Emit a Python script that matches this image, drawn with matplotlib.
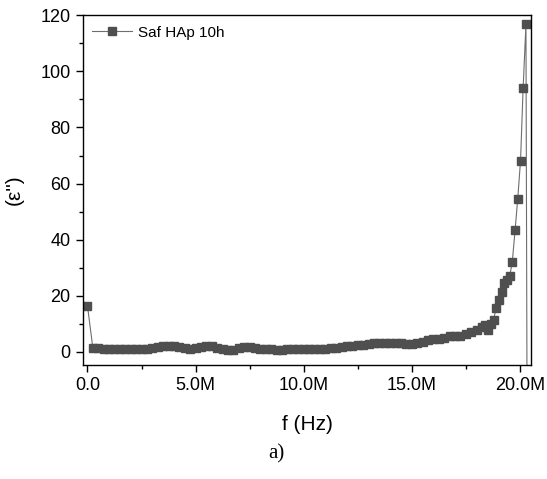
import numpy as np
import matplotlib
matplotlib.use("Agg")
import matplotlib.pyplot as plt
from matplotlib.ticker import MultipleLocator, FuncFormatter

plt.rcParams['font.family'] = ['Liberation Sans', 'DejaVu Sans']

# frequency sweep (MHz) and dielectric loss
freq_mhz = [
    0.0, 0.25, 0.5, 0.75, 1.0, 1.25, 1.5, 1.75, 2.0, 2.25, 2.5, 2.75, 3.0,
    3.25, 3.5, 3.75, 4.0, 4.25, 4.5, 4.75, 5.0, 5.25, 5.5, 5.75,
    6.0, 6.25, 6.5, 6.75, 7.0, 7.25, 7.5,
    7.75, 8.0, 8.25, 8.5, 8.75, 9.0, 9.25, 9.5, 9.75, 10.0, 10.25, 10.5, 10.75, 11.0,
    11.25, 11.5, 11.75, 12.0, 12.25, 12.5,
    12.75, 13.0, 13.25, 13.5, 13.75, 14.0,
    14.25, 14.5, 14.75, 15.0, 15.25,
    15.5, 15.75, 16.0, 16.25,
    16.5, 16.75, 17.0, 17.25,
    17.5, 17.75, 18.0, 18.25, 18.4,
    18.53, 18.65, 18.78, 18.90, 19.03, 19.15, 19.28, 19.40, 19.53,
    19.65, 19.78, 19.90, 20.03, 20.15, 20.28, 20.38,
]
eps_loss = [
    16.4, 1.3, 1.2, 1.1, 1.0, 1.0, 0.9, 0.9, 1.0, 1.0, 1.1, 1.1, 1.2,
    1.6, 2.0, 2.1, 2.1, 1.8, 1.2, 0.9, 1.2, 1.7, 2.1, 2.0,
    1.5, 1.0, 0.7, 0.8, 1.3, 1.7, 1.6,
    1.2, 1.0, 0.9, 0.9, 0.8, 0.8, 0.9, 0.9, 1.0, 1.0, 0.9, 0.9, 1.0, 1.1,
    1.2, 1.4, 1.6, 1.9, 2.1, 2.4,
    2.6, 2.8, 3.0, 3.1, 3.2, 3.2,
    3.1, 3.0, 2.9, 2.9, 3.0,
    3.6, 4.2, 4.4, 4.6,
    5.0, 5.5, 5.6, 5.8,
    6.4, 7.0, 7.8, 8.7, 9.4,
    7.9, 10.0, 11.4, 15.5, 18.5, 21.5, 24.5, 25.5, 27.0,
    32.2, 43.6, 54.6, 68.2, 94.2, 116.8, -150.0,
]

freq = np.array(freq_mhz) * 1e6

fig = plt.figure(figsize=(5.47, 4.79), dpi=100)
ax = fig.add_axes([0.152, 0.238, 0.819, 0.730])

ax.plot(freq, eps_loss, color='#6e6e6e', lw=0.8, marker='s', ms=6.0,
        mfc='#4f4f4f', mec='#4f4f4f', label='Saf HAp 10h')

ax.set_xlim(-0.2e6, 20.52e6)
ax.set_ylim(-4.7, 120)

ax.xaxis.set_major_locator(MultipleLocator(5e6))
ax.xaxis.set_minor_locator(MultipleLocator(2.5e6))
ax.yaxis.set_major_locator(MultipleLocator(20))
ax.yaxis.set_minor_locator(MultipleLocator(10))


def mega(v, pos):
    if abs(v) < 1:
        return '0.0'
    return '%.1fM' % (v / 1e6)


ax.xaxis.set_major_formatter(FuncFormatter(mega))
ax.tick_params(which='both', direction='out', width=1.0, labelsize=13,
               top=False, right=False)
ax.tick_params(which='major', length=5, pad=4)
ax.tick_params(which='minor', length=3)
for s in ax.spines.values():
    s.set_linewidth(1.0)

ax.set_xlabel('f (Hz)', fontsize=15, labelpad=15)
ax.set_ylabel('(ε")', fontsize=15, labelpad=12)

ax.legend(loc='upper left', bbox_to_anchor=(-0.01, 1.01), frameon=False,
          fontsize=11, handlelength=2.6, handletextpad=0.4)

fig.text(0.505, 0.052, 'a)', family='Liberation Serif', fontsize=15,
         ha='center', va='center')

fig.savefig('out.png', dpi=100)
